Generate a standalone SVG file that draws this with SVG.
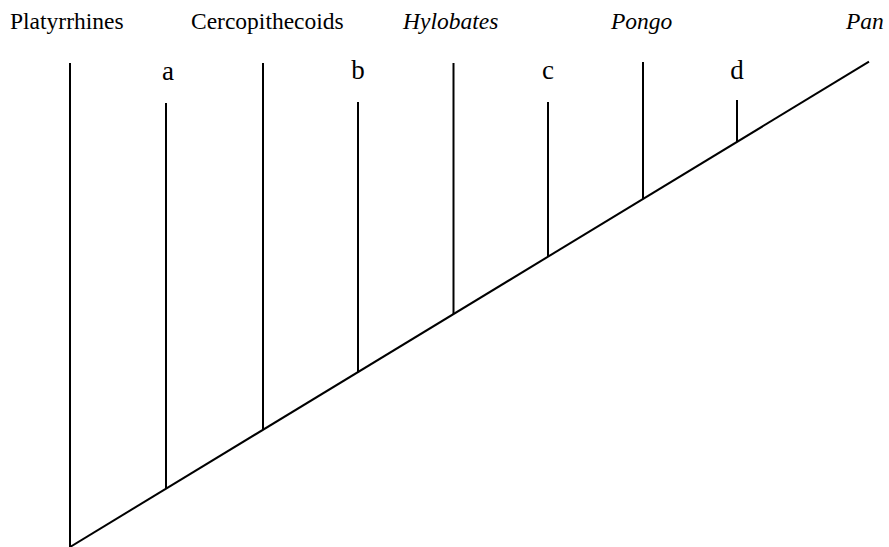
<svg xmlns="http://www.w3.org/2000/svg" width="889" height="547" viewBox="0 0 889 547">
<style>
.ln{stroke:#000;stroke-width:2;fill:none;stroke-linecap:butt}
.tx{font-family:'Liberation Serif','DejaVu Serif',serif;font-size:23.5px;fill:#000}
.it{font-style:italic}
.lt{font-family:'Liberation Serif','DejaVu Serif',serif;font-size:27px;fill:#000;text-anchor:middle}
</style>
<rect width="889" height="547" fill="#fff"/>
<g id="connectors">
<line class="ln" x1="70" y1="547" x2="869" y2="61.7"/>
<line class="ln" x1="70" y1="63" x2="70" y2="547"/>
<line class="ln" x1="166" y1="103" x2="166" y2="488.7"/>
<line class="ln" x1="263" y1="63" x2="263" y2="430"/>
<line class="ln" x1="358" y1="102" x2="358" y2="372.3"/>
<line class="ln" x1="453.5" y1="63" x2="453.5" y2="314"/>
<line class="ln" x1="548" y1="102" x2="548" y2="256.6"/>
<line class="ln" x1="643" y1="62" x2="643" y2="199"/>
<line class="ln" x1="737" y1="100" x2="737" y2="141.8"/>
</g>
<g id="node-platyrrhines"><text class="tx" x="10" y="29">Platyrrhines</text></g>
<g id="node-cercopithecoids"><text class="tx" x="191" y="29">Cercopithecoids</text></g>
<g id="node-hylobates"><text class="tx it" x="403" y="29">Hylobates</text></g>
<g id="node-pongo"><text class="tx it" x="611" y="29">Pongo</text></g>
<g id="node-pan"><text class="tx it" x="846" y="29">Pan</text></g>
<g id="node-a"><text class="lt" x="168" y="80">a</text></g>
<g id="node-b"><text class="lt" x="358" y="79">b</text></g>
<g id="node-c"><text class="lt" x="548" y="79">c</text></g>
<g id="node-d"><text class="lt" x="737" y="79">d</text></g>
</svg>
